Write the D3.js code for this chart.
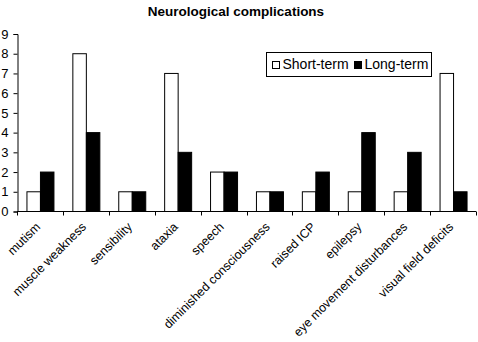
<!DOCTYPE html>
<html>
<head>
<meta charset="utf-8">
<script src="https://cdn.jsdelivr.net/npm/d3@7"></script>
<style>
  body { margin: 0; background: #fff; }
  text { font-family: "Liberation Sans", Arial, sans-serif; }
</style>
</head>
<body>
<div id="chart"></div>
<script>
const categories = ["mutism", "muscle weakness", "sensibility", "ataxia", "speech",
  "diminished consciousness", "raised ICP", "epilepsy", "eye movement disturbances", "visual field deficits"];
const shortTerm = [1, 8, 1, 7, 2, 1, 1, 1, 1, 7];
const longTerm = [2, 4, 1, 3, 2, 1, 2, 4, 3, 1];
const seriesNames = ["Short-term", "Long-term"];
const yTicks = [0, 1, 2, 3, 4, 5, 6, 7, 8, 9];

const width = 478, height = 342;
const margin = {top: 33.5, right: 2, bottom: 131, left: 17};

const svg = d3.select("#chart").append("svg")
  .attr("width", width)
  .attr("height", height);

// title
svg.append("text")
  .attr("x", 236)
  .attr("y", 15.5)
  .attr("text-anchor", "middle")
  .style("font-size", "13.5px")
  .style("font-weight", "bold")
  .text("Neurological complications");

const x0 = d3.scaleBand()
  .domain(categories)
  .range([margin.left, width - margin.right])
  .padding(0);

const x1 = d3.scaleBand()
  .domain(seriesNames)
  .range([0, x0.bandwidth()])
  .paddingInner(0)
  .paddingOuter(0.7);

const y = d3.scaleLinear()
  .domain([0, 9])
  .range([height - margin.bottom, margin.top]);

const data = categories.map((c, i) => ({cat: c, values: [shortTerm[i], longTerm[i]]}));

// bars
const groups = svg.append("g")
  .selectAll("g")
  .data(data)
  .enter().append("g")
    .attr("transform", d => `translate(${x0(d.cat)},0)`);

groups.selectAll("rect")
  .data(d => d.values.map((v, j) => ({name: seriesNames[j], value: v})))
  .enter().append("rect")
    .attr("x", d => x1(d.name) + 0.5)
    .attr("y", d => y(d.value) + 0.5)
    .attr("width", x1.bandwidth())
    .attr("height", d => y(0) - y(d.value))
    .attr("fill", d => d.name === "Short-term" ? "#fff" : "#000")
    .attr("stroke", "#000")
    .attr("stroke-width", 1);

// y axis
const yAxis = svg.append("g")
  .attr("transform", `translate(${margin.left + 0.5},0.5)`)
  .call(d3.axisLeft(y).tickValues(yTicks).tickSize(4).tickPadding(5).tickFormat(d3.format("d")));
yAxis.selectAll("text").style("font-size", "13px").attr("fill", "#000");
yAxis.select(".domain").attr("stroke", "#000");

// x axis: ticks at band boundaries
const xAxis = svg.append("g")
  .attr("transform", `translate(0,${y(0) + 0.5})`);
xAxis.append("line")
  .attr("x1", margin.left)
  .attr("x2", width - margin.right)
  .attr("stroke", "#000");
xAxis.selectAll("line.tick")
  .data(categories.concat(["end"]))
  .enter().append("line")
    .attr("class", "tick")
    .attr("x1", (d, i) => Math.round(margin.left + i * x0.step()) + 0.5)
    .attr("x2", (d, i) => Math.round(margin.left + i * x0.step()) + 0.5)
    .attr("y1", 0)
    .attr("y2", 4)
    .attr("stroke", "#000");

xAxis.selectAll("text")
  .data(categories)
  .enter().append("text")
    .attr("transform", d => `translate(${x0(d) + x0.bandwidth() / 2 - 2},${13}) rotate(-45)`)
    .attr("text-anchor", "end")
    .attr("dy", "0.35em")
    .style("font-size", "12.4px")
    .text(d => d);

// legend
const legend = svg.append("g").attr("transform", "translate(266.5,52.5)");
legend.append("rect")
  .attr("width", 165)
  .attr("height", 24)
  .attr("fill", "#fff")
  .attr("stroke", "#000");

const legendItems = [
  {name: seriesNames[0], x: 6, fill: "#fff"},
  {name: seriesNames[1], x: 88, fill: "#000"}
];
const li = legend.selectAll("g.item")
  .data(legendItems)
  .enter().append("g")
    .attr("class", "item")
    .attr("transform", d => `translate(${d.x},0)`);
li.append("rect")
  .attr("x", 0)
  .attr("y", 9)
  .attr("width", 7)
  .attr("height", 7)
  .attr("fill", d => d.fill)
  .attr("stroke", "#000");
li.append("text")
  .attr("x", 10)
  .attr("y", 16)
  .style("font-size", "14px")
  .text(d => d.name);
</script>
</body>
</html>
